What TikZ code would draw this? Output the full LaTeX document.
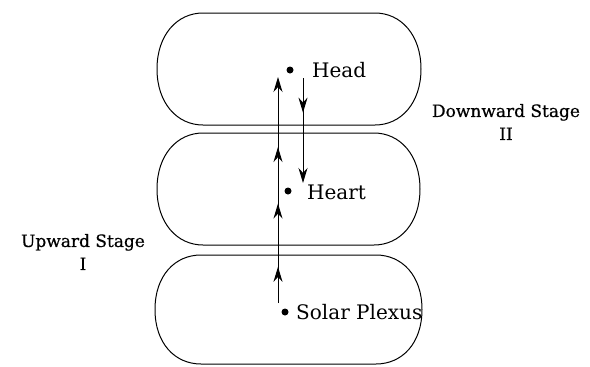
\documentclass[tikz,border=0pt]{standalone}
\usepackage{fontspec}
\setmainfont{DejaVu Serif}
\newfontfamily\stagefont[FakeBold=0.6]{DejaVu Serif}
\usetikzlibrary{arrows.meta,decorations.markings}
\newcommand\pillbox[5]{%
  \coordinate (#1) at ({(#2+#4)/2},{(#3+#5)/2});
  \draw[boxline] (#2+46,#3) -- (#4-46,#3)
    .. controls (#4-20,#3) and (#4,{(#3+#5)/2-34}) .. (#4,{(#3+#5)/2})
    .. controls (#4,{(#3+#5)/2+34}) and (#4-20,#5) .. (#4-46,#5)
    -- (#2+46,#5)
    .. controls (#2+20,#5) and (#2,{(#3+#5)/2+34}) .. (#2,{(#3+#5)/2})
    .. controls (#2,{(#3+#5)/2-34}) and (#2+20,#3) .. cycle;}
\begin{document}
\begin{tikzpicture}[x=1pt,y=-1pt,
  boxline/.style={line width=1pt},
  dot/.style={circle,fill=black,inner sep=0pt,minimum size=7pt},
  lbl/.style={font=\fontsize{20}{24}\selectfont,anchor=west,inner sep=0pt},
  stage/.style={font=\stagefont\fontsize{17}{23}\selectfont,align=center,inner sep=0pt},
  tip/.style={-{Stealth[length=15pt,width=9pt]}},
  flow/.style={line width=1pt}]
\useasboundingbox (0,0) rectangle (590,367);
\pillbox{top}{157}{13}{421}{125}
\pillbox{mid}{157}{133}{420}{245}
\pillbox{bot}{155}{255}{422}{364}
\node[dot] (head) at (290,70) {};
\node[dot] (heart) at (288,191) {};
\node[dot] (solar) at (285,312) {};
\node[lbl] (headt) at (312,70) {Head};
\node[lbl] (heartt) at (307,192) {Heart};
\node[lbl] (solart) at (296,312) {Solar Plexus};
\coordinate (u0) at (278,303);
\coordinate (u1) at (278,77);
\coordinate (d0) at (303,78);
\coordinate (d1) at (303,183);
\draw[flow,tip,postaction={decorate},decoration={markings,
  mark=at position 0.16 with {\arrow{Stealth[length=15pt,width=9pt]}},
  mark=at position 0.44 with {\arrow{Stealth[length=15pt,width=9pt]}},
  mark=at position 0.69 with {\arrow{Stealth[length=15pt,width=9pt]}}}] (u0) -- (u1);
\draw[flow,tip,postaction={decorate},decoration={markings,
  mark=at position 0.33 with {\arrow{Stealth[length=15pt,width=9pt]}}}] (d0) -- (d1);
\node[stage] (down) at (506,122) {Downward Stage\\II};
\node[stage] (up) at (83,252) {Upward Stage\\I};
\end{tikzpicture}
\end{document}
